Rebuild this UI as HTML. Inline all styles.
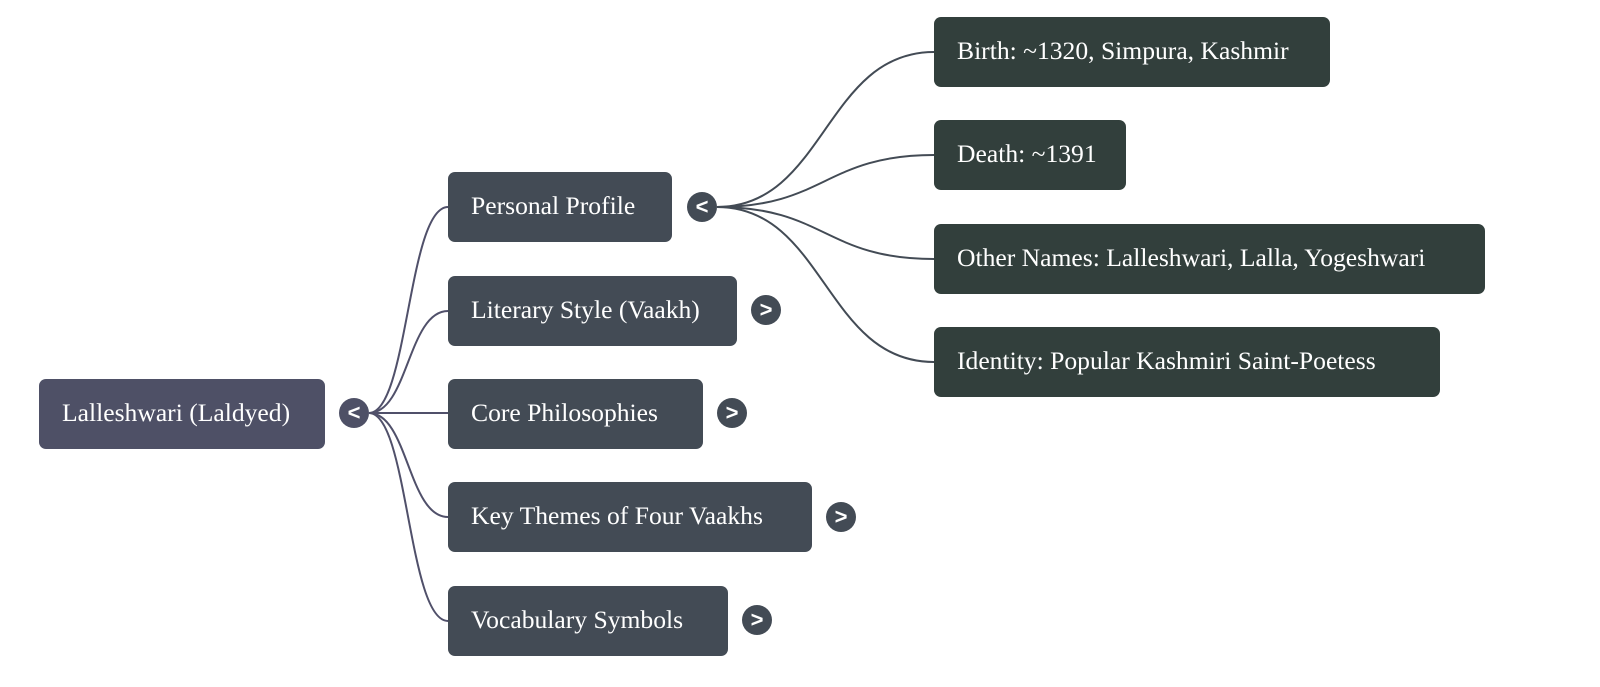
<!DOCTYPE html>
<html><head><meta charset="utf-8"><style>
body{margin:0;width:1600px;height:687px;background:#fff;position:relative;overflow:hidden;font-family:"Liberation Serif",serif;}
.n{position:absolute;height:70px;border-radius:7px;color:#fff;font-size:25.6px;line-height:68px;padding-left:23px;box-sizing:border-box;white-space:nowrap;}
.r{background:#4e5066}.a{background:#434b55}.b{background:#323f3c}
.t{position:absolute;width:30px;height:30px;border-radius:50%;color:#fff;font-family:"Liberation Sans",sans-serif;font-size:22px;line-height:29px;text-align:center;font-weight:bold;}
svg{position:absolute;left:0;top:0}
</style></head><body>
<svg width="1600" height="687" fill="none" stroke-width="2">
<g stroke="#50506a">
<path d="M369 413 C408 413 408 207 448 207"/>
<path d="M369 413 C408 413 408 311 448 311"/>
<path d="M369 413 L448 413"/>
<path d="M369 413 C408 413 408 517 448 517"/>
<path d="M369 413 C408 413 408 621 448 621"/>
</g>
<g stroke="#434b55">
<path d="M717 207 C825 207 825 52 934 52"/>
<path d="M717 207 C825 207 825 155 934 155"/>
<path d="M717 207 C825 207 825 259 934 259"/>
<path d="M717 207 C825 207 825 362 934 362"/>
</g>
</svg>
<div class="n r" style="left:39px;top:379px;width:286px">Lalleshwari (Laldyed)</div>
<div class="t r" style="left:339px;top:398px">&lt;</div>
<div class="n a" style="left:448px;top:172px;width:224px">Personal Profile</div>
<div class="t a" style="left:687px;top:192px">&lt;</div>
<div class="n a" style="left:448px;top:276px;width:289px">Literary Style (Vaakh)</div>
<div class="t a" style="left:751px;top:295px">&gt;</div>
<div class="n a" style="left:448px;top:379px;width:255px">Core Philosophies</div>
<div class="t a" style="left:717px;top:398px">&gt;</div>
<div class="n a" style="left:448px;top:482px;width:364px">Key Themes of Four Vaakhs</div>
<div class="t a" style="left:826px;top:502px">&gt;</div>
<div class="n a" style="left:448px;top:586px;width:280px">Vocabulary Symbols</div>
<div class="t a" style="left:742px;top:605px">&gt;</div>
<div class="n b" style="left:934px;top:17px;width:396px">Birth: ~1320, Simpura, Kashmir</div>
<div class="n b" style="left:934px;top:120px;width:192px">Death: ~1391</div>
<div class="n b" style="left:934px;top:224px;width:551px">Other Names: Lalleshwari, Lalla, Yogeshwari</div>
<div class="n b" style="left:934px;top:327px;width:506px">Identity: Popular Kashmiri Saint-Poetess</div>
</body></html>
